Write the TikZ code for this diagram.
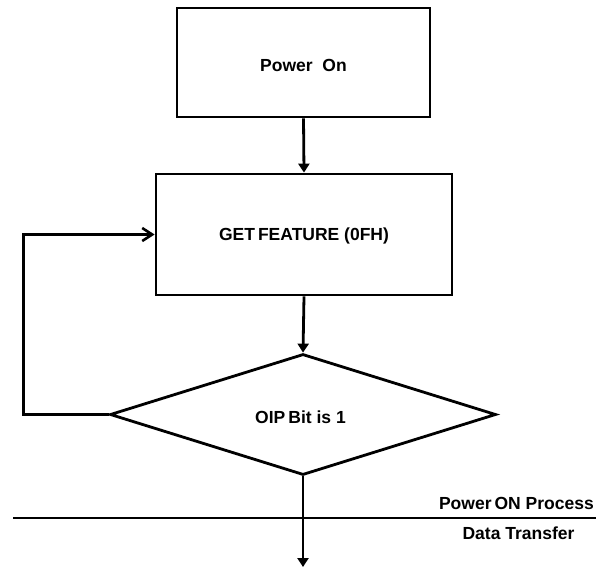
\documentclass[tikz,border=0pt]{standalone}
\usepackage{fontspec}
\setmainfont{Liberation Sans}
\usetikzlibrary{shapes.geometric,arrows.meta}
\begin{document}
\begin{tikzpicture}[x=1pt,y=-1pt,
  every node/.style={font=\fontsize{17.5}{20}\selectfont\bfseries},
  procbox/.style={draw,line width=2.8pt,rectangle,inner sep=0pt},
  decbox/.style={draw,line width=2.8pt,diamond,inner sep=0pt},
  flow/.style={line width=2.8pt,-{Triangle[width=11pt,length=9pt]}},
  loopflow/.style={line width=2.8pt,-{Straight Barb[width=13pt,length=10pt,line width=2.6pt]}},
  plain/.style={line width=2.8pt},
  lbl/.style={inner sep=0pt}]
\useasboundingbox (0,0) rectangle (596,568);
\node[procbox,minimum width=253pt,minimum height=109pt] (pon) at (303.5,62.5) {};
\node[lbl] (pont) at (303.5,65.5) {Power\ \ On};
\node[procbox,minimum width=296pt,minimum height=121pt] (get) at (304,234.5) {};
\node[lbl] (gett) at (304,235.5) {GET\hspace{3pt}FEATURE (0FH)};
\node[decbox,minimum width=386pt,minimum height=121pt] (dec) at (303,414.5) {};
\node[lbl] (dect) at (300.5,417) {OIP\hspace{3pt}Bit is 1};
\coordinate (lp) at (23.5,414.5);
\coordinate (endp) at (303,567);
\coordinate (l1) at (13,518);
\coordinate (l2) at (596,518);
\draw[flow] (pon.south) -- (get.north);
\draw[flow] (get.south) -- (dec.north);
\draw[loopflow] (dec.west) -- (lp) |- (get.west);
\draw[flow] (dec.south) -- (endp);
\draw[plain] (l1) -- (l2);
\node[lbl,anchor=base east] (pop) at (594,509) {Power\hspace{3pt}ON Process};
\node[lbl,anchor=base] (dt) at (518.5,539) {Data Transfer};
\end{tikzpicture}
\end{document}
